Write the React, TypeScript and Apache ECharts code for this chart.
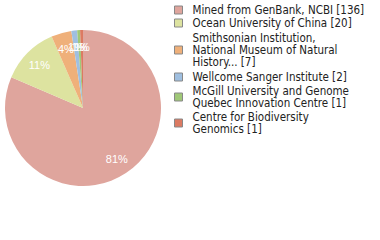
import React, { useEffect, useRef } from "react";
import * as echarts from "echarts";

const names = [
  "Mined from GenBank, NCBI [136]",
  "Ocean University of China [20]",
  "Smithsonian Institution,\nNational Museum of Natural\nHistory... [7]",
  "Wellcome Sanger Institute [2]",
  "McGill University and Genome\nQuebec Innovation Centre [1]",
  "Centre for Biodiversity\nGenomics [1]",
];
const values = [136, 20, 7, 2, 1, 1];
const pctLabels = ["81%", "11%", "4%", "1%", "1%", "1%"];
const colors = ["#dfa59d", "#dde3a0", "#efb07a", "#9fbfe0", "#a0c878", "#dc7a62"];
// extra vertical padding [top, bottom] per legend entry
const legendPad = [
  [0, 0],
  [0, 0],
  [2, 2],
  [0, 0],
  [0, 2],
  [0, 0],
];

export default function App() {
  const ref = useRef<HTMLDivElement>(null);
  useEffect(() => {
    if (!ref.current) return;
    const chart = echarts.init(ref.current, undefined, { renderer: "svg" });
    const data = names.map((n, i) => ({
      name: n,
      value: values[i],
      itemStyle: { color: colors[i] },
    }));
    chart.setOption({
      animation: false,
      legend: {
        orient: "vertical",
        left: 174,
        top: 4,
        padding: 0,
        itemGap: 1,
        itemWidth: 8,
        itemHeight: 8,
        icon: "rect",
        selectedMode: false,
        itemStyle: { borderColor: "#888", borderWidth: 1 },
        textStyle: {
          fontFamily: "'DejaVu Sans Condensed', 'DejaVu Sans', sans-serif",
          fontSize: 11.5,
          lineHeight: 12,
          color: "#222",
          padding: [0, 0, 0, 5],
        },
        data: names.map((n, i) => ({
          name: n,
          textStyle: { padding: [legendPad[i][0], 0, legendPad[i][1], 5] },
        })),
      },
      series: [
        {
          type: "pie",
          center: [83, 108],
          radius: [0, 78],
          startAngle: 90,
          clockwise: true,
          label: { show: false },
          labelLine: { show: false },
          emphasis: { disabled: true },
          data,
        },
        {
          type: "pie",
          center: [83, 108],
          radius: [39, 78],
          startAngle: 90,
          clockwise: true,
          silent: true,
          avoidLabelOverlap: false,
          labelLayout: { hideOverlap: false },
          itemStyle: { color: "transparent", borderWidth: 0 },
          label: {
            show: true,
            position: "inside",
            color: "#fff",
            fontFamily: "'Liberation Sans', Arial, sans-serif",
            fontSize: 11,
            formatter: (p: any) => pctLabels[p.dataIndex],
          },
          labelLine: { show: false },
          emphasis: { disabled: true },
          data: names.map((n, i) => ({
            name: n,
            value: values[i],
            itemStyle: { color: "transparent" },
          })),
        },
      ],
    });
    return () => chart.dispose();
  }, []);
  return (
    <div
      ref={ref}
      style={{ position: "fixed", left: 0, top: 0, width: 380, height: 240, background: "#fff" }}
    />
  );
}
